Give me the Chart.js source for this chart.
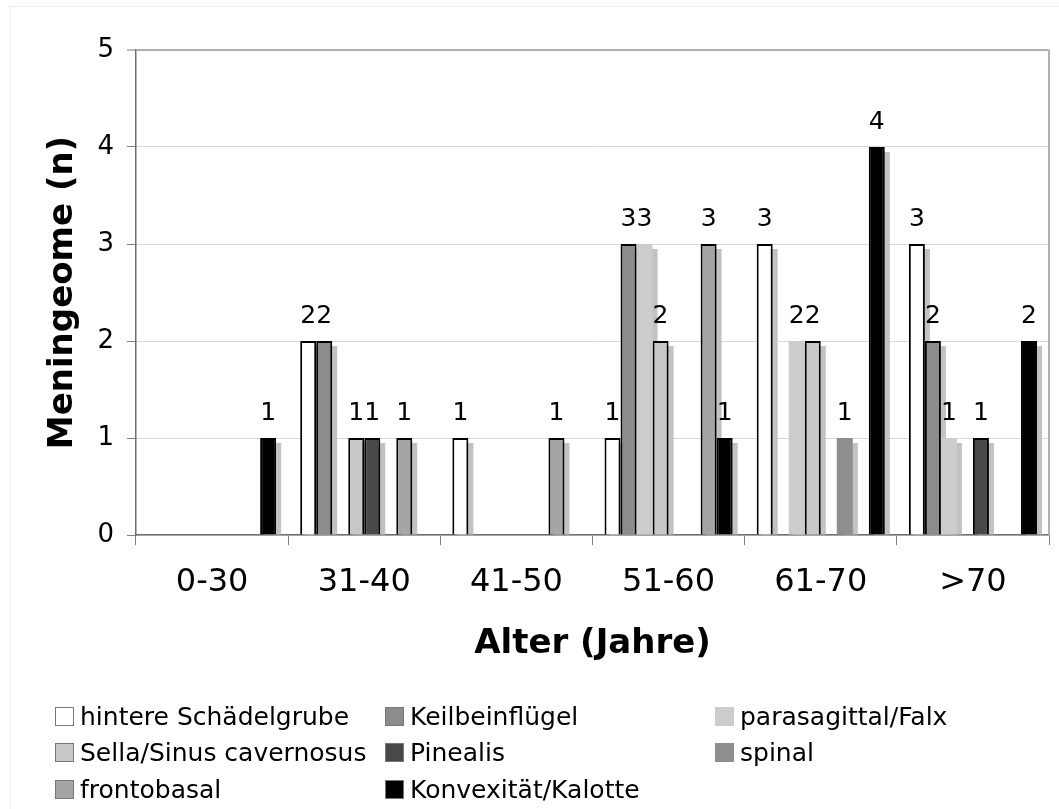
<!DOCTYPE html>
<html>
<head>
<meta charset="utf-8">
<script src="https://cdn.jsdelivr.net/npm/chart.js@4.4.1/dist/chart.umd.min.js"></script>
<style>
body { margin: 0; background: #fff; font-family: "DejaVu Sans", sans-serif; }
#wrap { position: relative; width: 1059px; height: 809px; overflow: hidden; }
#frame { position: absolute; left: 10px; top: 6px; width: 1100px; height: 900px;
         border-left: 1px solid #ececec; border-top: 1px solid #ececec; }
canvas { position: absolute; left: 0; top: 0; }
.item { position: absolute; height: 36px; display: flex; align-items: center;
        font-size: 25px; color: #000; white-space: nowrap; }
.sw { width: 19px; height: 19px; margin-right: 6px; box-sizing: border-box; border: 1px solid #777; }
</style>
</head>
<body>
<div id="wrap">
  <div id="frame"></div>
  <canvas id="chart" width="1059" height="809"></canvas>
  <div id="legend"></div>
</div>
<script>
const labels = ['0-30', '31-40', '41-50', '51-60', '61-70', '>70'];

const hintere      = [0, 2, 1, 1, 3, 3];
const keilbein     = [0, 2, 0, 3, 0, 2];
const parasagittal = [0, 0, 0, 3, 2, 1];
const sella        = [0, 1, 0, 2, 2, 0];
const pinealis     = [0, 1, 0, 0, 0, 1];
const spinal       = [0, 0, 0, 0, 1, 0];
const frontobasal  = [0, 1, 1, 3, 0, 0];
const konvexitaet  = [1, 0, 0, 1, 4, 2];

const seriesNames = ['hintere Schädelgrube', 'Keilbeinflügel', 'parasagittal/Falx',
    'Sella/Sinus cavernosus', 'Pinealis', 'spinal', 'frontobasal', 'Konvexität/Kalotte'];
const seriesData = [hintere, keilbein, parasagittal, sella, pinealis, spinal, frontobasal, konvexitaet];

// style per series
const fills   = ['#ffffff', '#8c8c8c', '#cccccc', '#c8c8c8', '#484848', '#8e8e8e', '#a5a5a5', '#000000'];
const borders = [2, 2, 0, 2, 2, 0, 2, 2];

const shadowPlugin = {
    id: 'shadows',
    beforeDatasetsDraw(chart) {
        const ctx = chart.ctx;
        const area = chart.chartArea;
        ctx.save();
        // plot frame: right side
        ctx.strokeStyle = '#b0b0b0';
        ctx.lineWidth = 2;
        ctx.beginPath();
        ctx.moveTo(area.right, area.top);
        ctx.lineTo(area.right, area.bottom);
        ctx.stroke();
        ctx.fillStyle = '#c2c2c2';
        chart.data.datasets.forEach((ds, i) => {
            const meta = chart.getDatasetMeta(i);
            meta.data.forEach((bar, j) => {
                if (!ds.data[j]) return;
                const p = bar.getProps(['x', 'y', 'base', 'width'], true);
                ctx.fillRect(p.x - p.width / 2 + 5, p.y + 5, p.width, p.base - p.y - 5);
            });
        });
        ctx.restore();
    },
    afterDatasetsDraw(chart) {
        const ctx = chart.ctx;
        ctx.save();
        ctx.fillStyle = '#000';
        ctx.font = '25px "DejaVu Sans"';
        ctx.textAlign = 'center';
        ctx.textBaseline = 'alphabetic';
        chart.data.datasets.forEach((ds, i) => {
            const meta = chart.getDatasetMeta(i);
            meta.data.forEach((bar, j) => {
                if (!ds.data[j]) return;
                const p = bar.getProps(['x', 'y'], true);
                ctx.fillText(String(ds.data[j]), p.x, p.y - 18);
            });
        });
        ctx.restore();
    }
};

const chart = new Chart(document.getElementById('chart').getContext('2d'), {
    type: 'bar',
    data: {
        labels: labels,
        datasets: seriesData.map((d, i) => ({
            label: seriesNames[i],
            data: d,
            backgroundColor: fills[i],
            borderColor: '#000',
            borderWidth: borders[i],
            borderSkipped: 'bottom',
            categoryPercentage: 0.842,
            barPercentage: 1.0
        }))
    },
    options: {
        responsive: false,
        animation: false,
        layout: { padding: { top: 50, right: 10, bottom: 144, left: 0 } },
        plugins: {
            legend: { display: false },
            tooltip: { enabled: false }
        },
        scales: {
            x: {
                grid: { drawOnChartArea: false, drawTicks: true, tickLength: 10, tickColor: '#808080', offset: true },
                border: { color: '#707070', width: 1.5 },
                ticks: { color: '#000', font: { family: 'DejaVu Sans', size: 32 }, padding: 18, maxRotation: 0 },
                title: { display: true, text: 'Alter (Jahre)', color: '#000',
                         font: { family: 'DejaVu Sans', size: 34, weight: 'bold' }, padding: { top: 0, bottom: 0 } },
                afterFit(scale) { scale.height = 130; }
            },
            y: {
                min: 0,
                max: 5,
                ticks: { stepSize: 1, color: '#000', font: { family: 'DejaVu Sans', size: 26 }, padding: 13 },
                grid: {
                    color: c => c.tick && c.tick.value === 5 ? '#b0b0b0' : '#d9d9d9',
                    lineWidth: c => c.tick && c.tick.value === 5 ? 2 : 1,
                    tickColor: '#808080',
                    tickWidth: 1,
                    tickLength: 9
                },
                border: { color: '#707070', width: 1.5 },
                title: { display: true, text: 'Meningeome (n)', color: '#000',
                         font: { family: 'DejaVu Sans', size: 34, weight: 'bold' }, padding: { top: 43, bottom: 0 } },
                afterFit(scale) { scale.width = 136; }
            }
        }
    },
    plugins: [shadowPlugin]
});

// legend, three columns
const legend = document.getElementById('legend');
seriesNames.forEach((name, i) => {
    const col = i % 3, row = Math.floor(i / 3);
    const item = document.createElement('div');
    item.className = 'item';
    item.style.left = (55 + col * 330) + 'px';
    item.style.top = (698 + row * 36.5) + 'px';
    const sw = document.createElement('span');
    sw.className = 'sw';
    sw.style.background = fills[i];
    if (!borders[i]) sw.style.borderColor = fills[i];
    item.appendChild(sw);
    item.appendChild(document.createTextNode(name));
    legend.appendChild(item);
});
</script>
</body>
</html>
